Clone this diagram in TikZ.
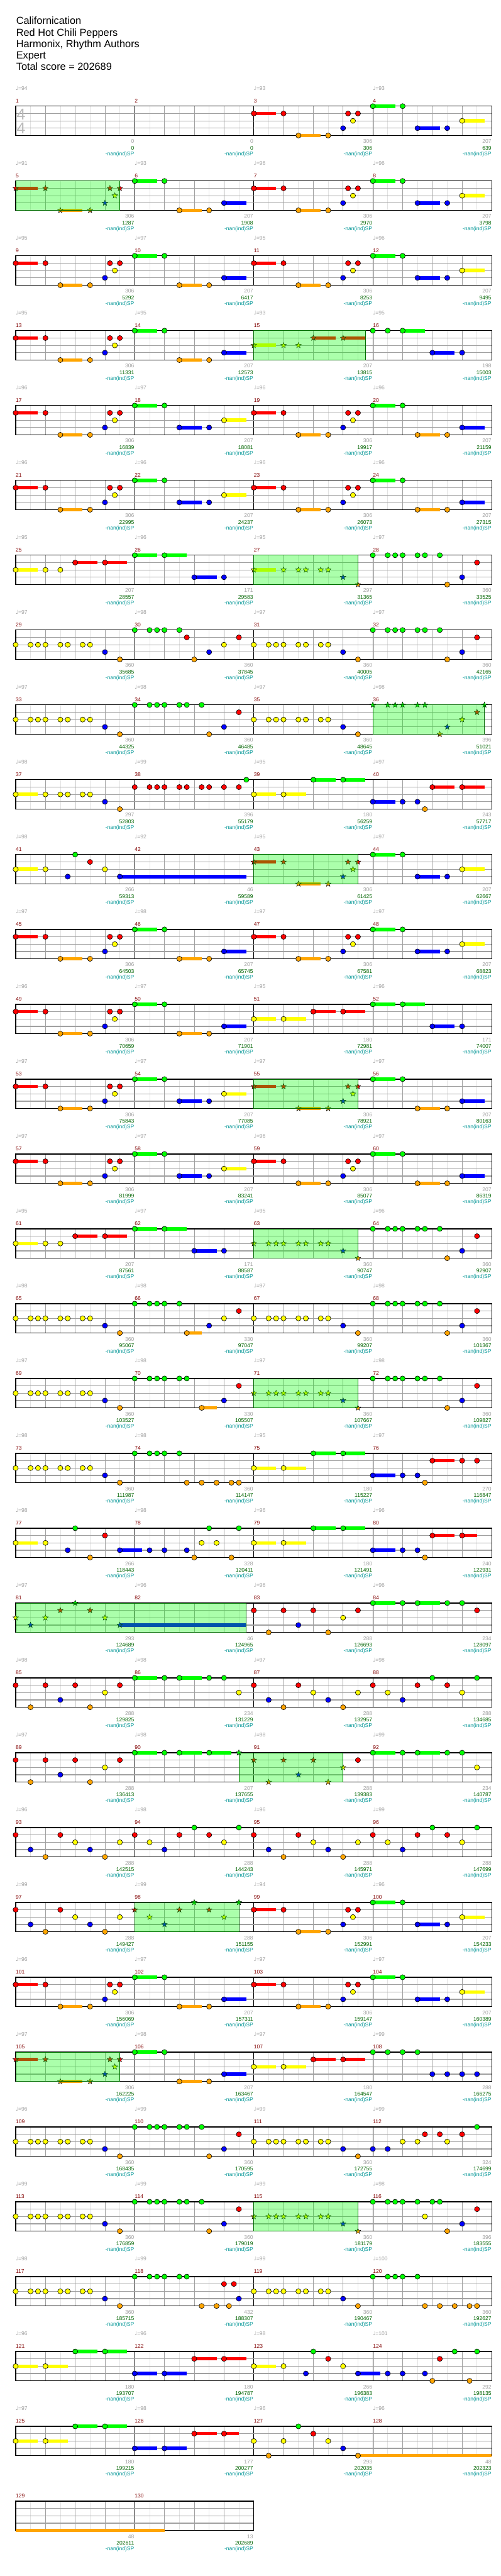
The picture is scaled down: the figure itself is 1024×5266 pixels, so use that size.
\documentclass[tikz,border=0pt]{standalone}
\usepackage{fontspec}
\setmainfont{Liberation Sans}
\newfontfamily\notefont{DejaVu Sans}
\usepackage{tikz}
\usetikzlibrary{shapes.geometric, positioning}
\usepackage{xcolor}
\definecolor{lane0}{RGB}{0,255,0}
\definecolor{lane1}{RGB}{255,0,0}
\definecolor{lane2}{RGB}{255,255,0}
\definecolor{lane3}{RGB}{0,0,255}
\definecolor{lane4}{RGB}{255,165,0}
\definecolor{gridlight}{RGB}{226,226,226}
\definecolor{gridmid}{RGB}{160,160,160}
\definecolor{labelgray}{RGB}{160,160,160}
\definecolor{bardark}{RGB}{128,0,0}
\definecolor{totalgreen}{RGB}{0,100,0}
\definecolor{spteal}{RGB}{0,150,150}
\definecolor{spedge}{RGB}{0,110,0}

% note lists: position in 16ths / lane (0 green .. 4 orange) / sustain in 16ths
\newcommand{\patA}{0/1/3,4/1/0,6/4/3,10/4/0,12/3/0,12.67/1/0,13.33/2/0,14/1/0}
\newcommand{\patB}{0/0/3,4/0/0,6/4/3,10/4/0,12/3/3}
\newcommand{\patC}{0/0/3,4/0/0,6/3/3,10/3/0,12/2/3}
\newcommand{\patD}{0/2/3,4/2/0,6/2/0,8/1/3,12/1/3}
\newcommand{\patE}{0/0/0,2/0/0,4/0/3,8/3/3,12/3/0}
\newcommand{\patG}{0/0/3,4/0/3,8/3/3,12/3/0}
\newcommand{\patH}{0/2/3,4/2/0,6/2/0,7/2/0,9/2/0,10/2/0,12/3/0,14/4/0}
\newcommand{\patI}{0/0/0,2/0/0,3/0/0,4/0/0,6/0/0,7/0/0,9/0/0,10/4/0,12/3/0,14/1/0}
\newcommand{\patJ}{0/2/0,2/2/0,3/2/0,4/2/0,6/2/0,7/2/0,9/2/0,10/2/0,12/3/0,14/4/0}
\newcommand{\patK}{0/0/0,2/0/0,3/0/0,4/0/0,6/0/0,7/1/0,8/4/0,10/3/0,12/2/0,14/1/0}
\newcommand{\patL}{0/0/0,2/0/0,3/0/0,4/0/0,6/0/0,7/0/0,9/4/0,10/3/0,12/2/0,14/1/0,15/0/0}
\newcommand{\patN}{0/1/0,2/1/0,3/1/0,4/1/0,6/1/0,7/1/0,9/1/0,10/1/0,12/1/0,14/1/0,15/0/0}
\newcommand{\patO}{0/2/3,4/2/3,8/0/3,12/0/3}
\newcommand{\patP}{0/3/3,4/3/0,6/3/0,7/4/0,8/1/3,12/1/3}
\newcommand{\patR}{0/2/3,4/2/3,8/1/3,12/1/3}
\newcommand{\patU}{0/1/0,2/4/0,4/1/0,6/3/0,8/1/0,10/4/0,12/2/0,14/1/0}
\newcommand{\patV}{0/0/3,4/0/0,6/0/3,10/0/0,12/0/0,14/2/0}
\newcommand{\patW}{0/1/0,2/3/0,4/4/0,6/1/0,8/2/0,10/3/0,12/4/0,14/2/0}
\newcommand{\patX}{0/1/0,2/2/0,4/3/0,6/1/0,8/0/0,10/1/0,12/2/0,14/0/0}

\newcommand{\staffrow}[2]{%
  \pgfmathsetmacro{\rowy}{217+153*(#1-1)}%
  \pgfmathsetmacro{\sx}{32+243.5*#2}%
  \pgfmathtruncatemacro{\neig}{8*#2-1}%
  \pgfmathtruncatemacro{\nbeat}{4*#2-1}%
  \pgfmathtruncatemacro{\nbar}{#2-1}%
  \foreach \k in {1,...,\neig} \draw[eighthline] ({32+30.4375*\k},\rowy) -- ++(0,60);
  \foreach \k in {1,...,\nbeat} \draw[beatline] ({32+60.875*\k},\rowy) -- ++(0,60);
  \foreach \k in {1,...,\nbar} \draw[barline] ({32+243.5*\k},\rowy) -- ++(0,60);
  \foreach \k in {1,2,3} \draw[laneline] (32,\rowy+15*\k) -- (\sx,\rowy+15*\k);
  \draw[staffframe] (32,\rowy) rectangle (\sx,\rowy+60);
}
\newcommand{\notes}[3]{%
  \pgfmathsetmacro{\rowy}{217+153*(#1-1)}%
  \foreach \pos/\lane/\len in #3 {%
    \pgfmathsetmacro{\nx}{32+15.21875*(16*#2+\pos)}%
    \pgfmathsetmacro{\ny}{\rowy+15*\lane}%
    \ifnum\len>0 \fill[fill=lane\lane] (\nx,\ny-3.5) rectangle ({\nx+15.21875*\len},\ny+3.5); \fi
    \draw[gem, fill=lane\lane] (\nx,\ny) ellipse [x radius=5.3, y radius=5.2];
  }}
\newcommand{\stars}[3]{%
  \pgfmathsetmacro{\rowy}{217+153*(#1-1)}%
  \foreach \pos/\lane/\len [count=\gi] in #3 {%
    \pgfmathsetmacro{\nx}{32+15.21875*(16*#2+\pos)}%
    \pgfmathsetmacro{\ny}{\rowy+15*\lane}%
    \ifnum\len>0 \fill[fill=lane\lane] (\nx,\ny-3.5) rectangle ({\nx+15.21875*\len},\ny+3.5); \fi
    \node[spgem, fill=lane\lane] (st#1-#2-\gi) at (\nx,\ny) {};
  }}
\newcommand{\sparea}[3]{%
  \pgfmathsetmacro{\rowy}{217+153*(#1-1)}%
  \filldraw[spzone] ({32+15.21875*#2},\rowy) rectangle ({32+15.21875*#3},\rowy+60);
}
\newcommand{\rowinfo}[3]{%
  \pgfmathsetmacro{\rowy}{217+153*(#1-1)}%
  \foreach \bpm/\bscore/\btotal [count=\col from 0] in {#3} {%
    \pgfmathsetmacro{\mx}{32+243.5*\col}%
    \pgfmathtruncatemacro{\mnum}{#2+\col}%
    \node[barnum] (bar\mnum) at (\mx,\rowy-7) {\mnum};
    \ifnum\bpm>0 \node[tempomark] (tempo\mnum) at (\mx,\rowy-33) {{\notefont ♩}=\bpm}; \fi
    \node[barscore] (score\mnum) at ({\mx+242.5},\rowy+76) {\bscore};
    \node[runtotal] (total\mnum) at ({\mx+242.5},\rowy+89) {\btotal};
    \node[sptext] (sp\mnum) at ({\mx+242.5},\rowy+101) {-nan(ind)SP};
  }}

\begin{document}
\begin{tikzpicture}[x=1pt, y=-1pt,
        eighthline/.style={gridlight, line width=1pt},
        beatline/.style={gridmid, line width=1pt},
        barline/.style={black, line width=1pt},
        laneline/.style={gridmid, line width=1.6pt},
        staffframe/.style={black, line width=1.6pt},
        gem/.style={draw=black, line width=0.8pt},
        spgem/.style={star, star points=5, star point ratio=2.4, minimum size=12pt, inner sep=0pt, draw=black, line width=0.6pt},
        spzone/.style={fill=lane0, fill opacity=0.33, draw=spedge, line width=1pt},
        titletext/.style={font=\fontsize{21}{23}\selectfont, text height=15pt, text depth=4pt, inner sep=2pt, anchor=west},
        timesig/.style={font=\fontsize{32}{32}\selectfont, text=gray!55, inner sep=0pt},
        small/.style={font=\fontsize{11}{13}\selectfont, inner sep=0pt},
        barnum/.style={small, anchor=base west, text=bardark},
        tempomark/.style={small, anchor=base west, text=labelgray},
        barscore/.style={small, anchor=base east, text=labelgray},
        runtotal/.style={small, anchor=base east, text=totalgreen},
        sptext/.style={small, anchor=base east, text=spteal}
    ]
    \fill[white] (0,0) rectangle (1024,5266);
    \useasboundingbox (0,0) rectangle (1024,5266);

    \node[titletext] (song) at (31,44.5) {Californication};
    \node[titletext, below=0pt of song.south west, anchor=north west] (band) {Red Hot Chili Peppers};
    \node[titletext, below=0pt of band.south west, anchor=north west] (authors) {Harmonix, Rhythm Authors};
    \node[titletext, below=0pt of authors.south west, anchor=north west] (level) {Expert};
    \node[titletext, below=0pt of level.south west, anchor=north west] (total) {Total score = 202689};

    \staffrow{1}{4}
    \node[timesig] (sigtop) at (43,234) {4};
    \node[timesig] (sigbot) at (43,262) {4};
    \notes{1}{2}{\patA}
    \notes{1}{3}{\patC}
    \rowinfo{1}{1}{94/0/0,0/0/0,93/306/306,93/207/639}

    \staffrow{2}{4}
    \stars{2}{0}{\patA}
    \notes{2}{1}{\patB}
    \notes{2}{2}{\patA}
    \notes{2}{3}{\patC}
    \sparea{2}{0}{14}
    \rowinfo{2}{5}{91/306/1287,93/207/1908,96/306/2970,96/207/3798}

    \staffrow{3}{4}
    \notes{3}{0}{\patA}
    \notes{3}{1}{\patB}
    \notes{3}{2}{\patA}
    \notes{3}{3}{\patC}
    \rowinfo{3}{9}{95/306/5292,97/207/6417,95/306/8253,96/207/9495}

    \staffrow{4}{4}
    \notes{4}{0}{\patA}
    \notes{4}{1}{\patB}
    \stars{4}{2}{\patD}
    \notes{4}{3}{\patE}
    \sparea{4}{32}{47}
    \rowinfo{4}{13}{95/306/11331,95/207/12573,93/207/13815,95/198/15003}

    \staffrow{5}{4}
    \notes{5}{0}{\patA}
    \notes{5}{1}{\patC}
    \notes{5}{2}{\patA}
    \notes{5}{3}{\patB}
    \rowinfo{5}{17}{96/306/16839,97/207/18081,96/306/19917,96/207/21159}

    \staffrow{6}{4}
    \notes{6}{0}{\patA}
    \notes{6}{1}{\patC}
    \notes{6}{2}{\patA}
    \notes{6}{3}{\patB}
    \rowinfo{6}{21}{96/306/22995,96/207/24237,96/306/26073,96/207/27315}

    \staffrow{7}{4}
    \notes{7}{0}{\patD}
    \notes{7}{1}{\patG}
    \stars{7}{2}{\patH}
    \notes{7}{3}{\patI}
    \sparea{7}{32}{46}
    \rowinfo{7}{25}{95/207/28557,96/171/29583,95/297/31365,97/360/33525}

    \staffrow{8}{4}
    \notes{8}{0}{\patJ}
    \notes{8}{1}{\patK}
    \notes{8}{2}{\patJ}
    \notes{8}{3}{\patI}
    \rowinfo{8}{29}{97/360/35685,98/360/37845,97/360/40005,97/360/42165}

    \staffrow{9}{4}
    \notes{9}{0}{\patJ}
    \notes{9}{1}{\patI}
    \notes{9}{2}{\patJ}
    \stars{9}{3}{\patL}
    \sparea{9}{48}{63}
    \rowinfo{9}{33}{97/360/44325,98/360/46485,97/360/48645,98/396/51021}

    \staffrow{10}{4}
    \notes{10}{0}{\patH}
    \notes{10}{1}{\patN}
    \notes{10}{2}{\patO}
    \notes{10}{3}{\patP}
    \rowinfo{10}{37}{98/297/52803,99/396/55179,95/180/56259,97/243/57717}

    \staffrow{11}{4}
    \notes{11}{0}{{0/2/3,4/2/0,7/3/0,8/0/0,10/1/0,12/2/0,14/3/17}}
    \stars{11}{2}{\patA}
    \notes{11}{3}{\patC}
    \sparea{11}{32}{46}
    \rowinfo{11}{41}{98/266/59313,92/46/59589,95/306/61425,97/207/62667}

    \staffrow{12}{4}
    \notes{12}{0}{\patA}
    \notes{12}{1}{\patB}
    \notes{12}{2}{\patA}
    \notes{12}{3}{\patC}
    \rowinfo{12}{45}{97/306/64503,98/207/65745,97/306/67581,97/207/68823}

    \staffrow{13}{4}
    \notes{13}{0}{\patA}
    \notes{13}{1}{\patB}
    \notes{13}{2}{\patR}
    \notes{13}{3}{\patG}
    \rowinfo{13}{49}{96/306/70659,97/207/71901,95/180/72981,96/171/74007}

    \staffrow{14}{4}
    \notes{14}{0}{\patA}
    \notes{14}{1}{\patC}
    \stars{14}{2}{\patA}
    \notes{14}{3}{\patB}
    \sparea{14}{32}{46}
    \rowinfo{14}{53}{97/306/75843,97/207/77085,97/306/78921,97/207/80163}

    \staffrow{15}{4}
    \notes{15}{0}{\patA}
    \notes{15}{1}{\patC}
    \notes{15}{2}{\patA}
    \notes{15}{3}{\patB}
    \rowinfo{15}{57}{97/306/81999,97/207/83241,96/306/85077,97/207/86319}

    \staffrow{16}{4}
    \notes{16}{0}{\patD}
    \notes{16}{1}{\patG}
    \stars{16}{2}{\patJ}
    \notes{16}{3}{\patI}
    \sparea{16}{32}{46}
    \rowinfo{16}{61}{95/207/87561,97/171/88587,95/360/90747,96/360/92907}

    \staffrow{17}{4}
    \notes{17}{0}{\patJ}
    \notes{17}{1}{{0/0/0,2/0/0,3/0/0,4/0/0,6/0/0,7/4/2,10/3/0,12/2/0,14/1/0}}
    \notes{17}{2}{\patJ}
    \notes{17}{3}{\patI}
    \rowinfo{17}{65}{98/360/95067,98/330/97047,97/360/99207,98/360/101367}

    \staffrow{18}{4}
    \notes{18}{0}{\patJ}
    \notes{18}{1}{{0/0/0,2/0/0,3/0/0,4/0/0,6/0/0,7/0/0,9/4/2,12/3/0,14/1/0}}
    \stars{18}{2}{\patJ}
    \notes{18}{3}{\patI}
    \sparea{18}{32}{46}
    \rowinfo{18}{69}{97/360/103527,98/330/105507,97/360/107667,98/360/109827}

    \staffrow{19}{4}
    \notes{19}{0}{\patJ}
    \notes{19}{1}{{0/0/0,2/0/0,3/0/0,4/0/0,6/0/0,7/4/0,9/4/0,11/4/0,13/4/0,14/4/0}}
    \notes{19}{2}{\patO}
    \notes{19}{3}{{0/3/3,4/3/0,6/3/0,7/4/0,8/1/3,12/1/0,14/1/0}}
    \rowinfo{19}{73}{98/360/111987,98/360/114147,95/180/115227,97/270/116847}

    \staffrow{20}{4}
    \notes{20}{0}{{0/2/3,4/2/0,7/3/0,8/0/0,10/4/0,12/1/0,14/3/3}}
    \notes{20}{1}{{2/3/0,4/3/0,7/3/0,8/4/0,9/2/0,10/0/0,11/2/0,13/4/0,14/0/0}}
    \notes{20}{2}{\patO}
    \notes{20}{3}{{0/3/3,4/3/0,6/3/0,7/4/0,8/1/3,12/1/2}}
    \rowinfo{20}{77}{98/266/118443,98/328/120411,96/180/121491,96/240/122931}

    \staffrow{21}{4}
    \stars{21}{0}{{0/2/0,2/3/0,4/2/0,6/1/0,8/0/0,10/1/0,12/2/0,14/3/17}}
    \notes{21}{2}{\patU}
    \notes{21}{3}{{0/0/3,4/0/0,6/0/3,10/0/0,12/0/0,14/1/0}}
    \sparea{21}{0}{31}
    \rowinfo{21}{81}{97/293/124689,96/46/124965,96/288/126693,96/234/128097}

    \staffrow{22}{4}
    \notes{22}{0}{\patU}
    \notes{22}{1}{\patV}
    \notes{22}{2}{\patW}
    \notes{22}{3}{\patX}
    \rowinfo{22}{85}{98/288/129825,98/234/131229,97/288/132957,98/288/134685}

    \staffrow{23}{4}
    \notes{23}{0}{\patU}
    \notes{23}{1}{{0/0/3,4/0/0,6/0/3,10/0/3}}
    \stars{23}{1}{{14/0/0}}
    \stars{23}{2}{{0/1/0,2/4/0,4/1/0,6/3/0,8/1/0,10/4/0,12/2/0}}
    \notes{23}{2}{{14/1/0}}
    \notes{23}{3}{\patV}
    \sparea{23}{30}{44}
    \rowinfo{23}{89}{97/288/136413,98/207/137655,98/288/139383,99/234/140787}

    \staffrow{24}{4}
    \notes{24}{0}{\patW}
    \notes{24}{1}{\patX}
    \notes{24}{2}{\patW}
    \notes{24}{3}{\patX}
    \rowinfo{24}{93}{96/288/142515,98/288/144243,96/288/145971,99/288/147699}

    \staffrow{25}{4}
    \notes{25}{0}{\patW}
    \stars{25}{1}{\patX}
    \notes{25}{2}{\patA}
    \notes{25}{3}{\patC}
    \sparea{25}{16}{30}
    \rowinfo{25}{97}{99/288/149427,99/288/151155,94/306/152991,96/207/154233}

    \staffrow{26}{4}
    \notes{26}{0}{\patA}
    \notes{26}{1}{\patB}
    \notes{26}{2}{\patA}
    \notes{26}{3}{\patC}
    \rowinfo{26}{101}{96/306/156069,97/207/157311,97/306/159147,97/207/160389}

    \staffrow{27}{4}
    \stars{27}{0}{\patA}
    \notes{27}{1}{\patB}
    \notes{27}{2}{\patR}
    \notes{27}{3}{{0/0/0,2/0/0,4/0/0,6/0/0,8/3/0,10/3/0,12/3/0,14/3/0}}
    \sparea{27}{0}{14}
    \rowinfo{27}{105}{97/306/162225,98/207/163467,97/180/164547,99/288/166275}

    \staffrow{28}{4}
    \notes{28}{0}{\patJ}
    \notes{28}{1}{\patI}
    \notes{28}{2}{\patJ}
    \notes{28}{3}{{0/3/0,2/3/0,4/2/0,6/2/0,7/1/0,9/1/0,10/2/0,12/1/0,14/0/0}}
    \rowinfo{28}{109}{96/360/168435,99/360/170595,99/360/172755,99/324/174699}

    \staffrow{29}{4}
    \notes{29}{0}{\patJ}
    \notes{29}{1}{\patI}
    \stars{29}{2}{\patJ}
    \notes{29}{3}{{0/0/0,2/0/0,3/0/0,4/0/0,6/0/0,7/2/0,8/0/0,9/0/0,10/4/0,12/3/0,14/1/0}}
    \sparea{29}{32}{46}
    \rowinfo{29}{113}{99/360/176859,99/360/179019,99/360/181179,98/396/183555}

    \staffrow{30}{4}
    \notes{30}{0}{\patJ}
    \notes{30}{1}{{0/0/0,2/0/0,3/0/0,4/0/0,6/0/0,7/0/0,9/4/0,11/4/0,12/1/0,12.67/4/0,13.33/1/0,14/3/0}}
    \notes{30}{2}{\patJ}
    \notes{30}{3}{{0/0/0,2/0/0,3/0/0,4/0/0,6/0/0,7/4/0,9/4/0,11/4/0,13/4/0,14/4/0}}
    \rowinfo{30}{117}{98/360/185715,99/432/188307,99/360/190467,100/360/192627}

    \staffrow{31}{4}
    \notes{31}{0}{\patO}
    \notes{31}{1}{{0/3/3,4/3/3,8/1/3,12/1/3}}
    \notes{31}{2}{{0/2/3,4/2/0,7/3/0,8/0/0,10/1/0,12/2/0,14/3/3}}
    \notes{31}{3}{{2/3/0,4/3/0,7/3/0,8/4/0,9/1/0,11/0/0,13/4/0,14/0/0}}
    \rowinfo{31}{121}{96/180/193707,96/180/194787,98/266/196383,101/292/198135}

    \staffrow{32}{4}
    \notes{32}{0}{\patO}
    \notes{32}{1}{{0/3/3,4/3/3,8/1/3,12/1/2}}
    \notes{32}{2}{{0/2/0,2/4/0,4/2/0,6/0/0,8/1/0,10/2/0,12/3/0,14/4/18}}
    \rowinfo{32}{125}{97/180/199215,98/177/200277,96/293/202035,96/48/202323}

    \staffrow{33}{2}
    \fill[lane4] (32,5169.5) rectangle (336.4,5176.5);
    \rowinfo{33}{129}{0/48/202611,0/13/202689}
\end{tikzpicture}
\end{document}
